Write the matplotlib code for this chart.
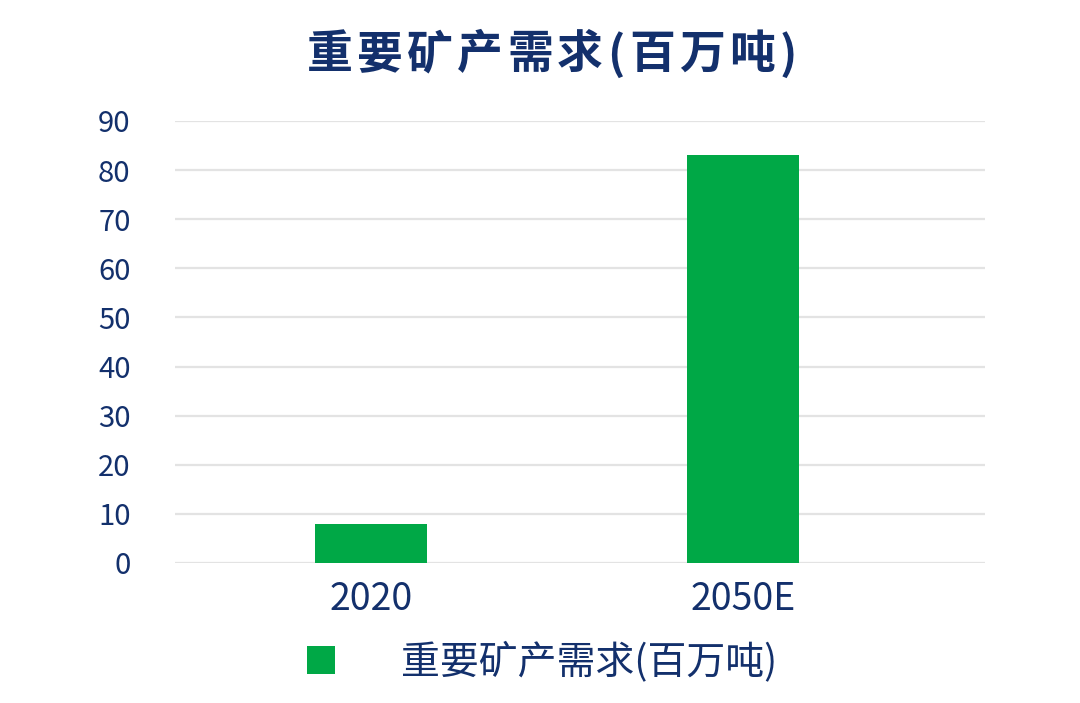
import matplotlib
matplotlib.use("Agg")
import matplotlib.pyplot as plt
from matplotlib.patches import Patch

categories = ["2020", "2050E"]
values = [8, 83]
yticks = [0, 10, 20, 30, 40, 50, 60, 70, 80, 90]
title = "重要矿产需求(百万吨)"
series_label = "重要矿产需求(百万吨)"

NAVY = "#13306c"
GREEN = "#00a846"
FONT = ["Noto Sans CJK SC", "DejaVu Sans"]
plt.rcParams["font.family"] = FONT

fig = plt.figure(figsize=(10.8, 7.03), dpi=100)
ax = fig.add_axes([175/1080, 1-563/703, 810/1080, (563-121)/703])

x = list(range(len(categories)))
ax.bar(x, values, width=0.30, color=GREEN, zorder=3)
ax.set_xlim(-0.527, 1.65)
ax.set_ylim(0, 90)
ax.set_yticks(yticks)
ax.set_yticklabels([str(t) for t in yticks])
ax.set_xticks(x)
ax.set_xticklabels(categories)
ax.grid(axis="y", color="#e3e3e3", linewidth=1.6, zorder=0)
ax.grid(axis="x", visible=False)
for s in ax.spines.values():
    s.set_visible(False)
ax.tick_params(axis="y", length=0, pad=32, labelsize=21, labelcolor=NAVY)
ax.tick_params(axis="x", length=0, pad=12, labelsize=27, labelcolor=NAVY)

# title with letter spacing: CJK advance vs. parenthesis advance (pixels)
xpos = 305.0
for ch in title:
    w = 22.0 if ch in "()" else 50.0
    fig.text((xpos + w / 2) / 1080, 1 - 55/703, ch, ha="center", va="center",
             fontsize=33, fontweight="bold", color=NAVY)
    xpos += w

handle = Patch(facecolor=GREEN, edgecolor="none")
leg = fig.legend([handle], [series_label], loc="center",
                 bbox_to_anchor=(542/1080, 1-662/703), frameon=False,
                 fontsize=28, handlelength=0.72, handleheight=0.72,
                 handletextpad=1.7)
for t in leg.get_texts():
    t.set_color(NAVY)

fig.savefig("out.png", dpi=100, facecolor="white")
